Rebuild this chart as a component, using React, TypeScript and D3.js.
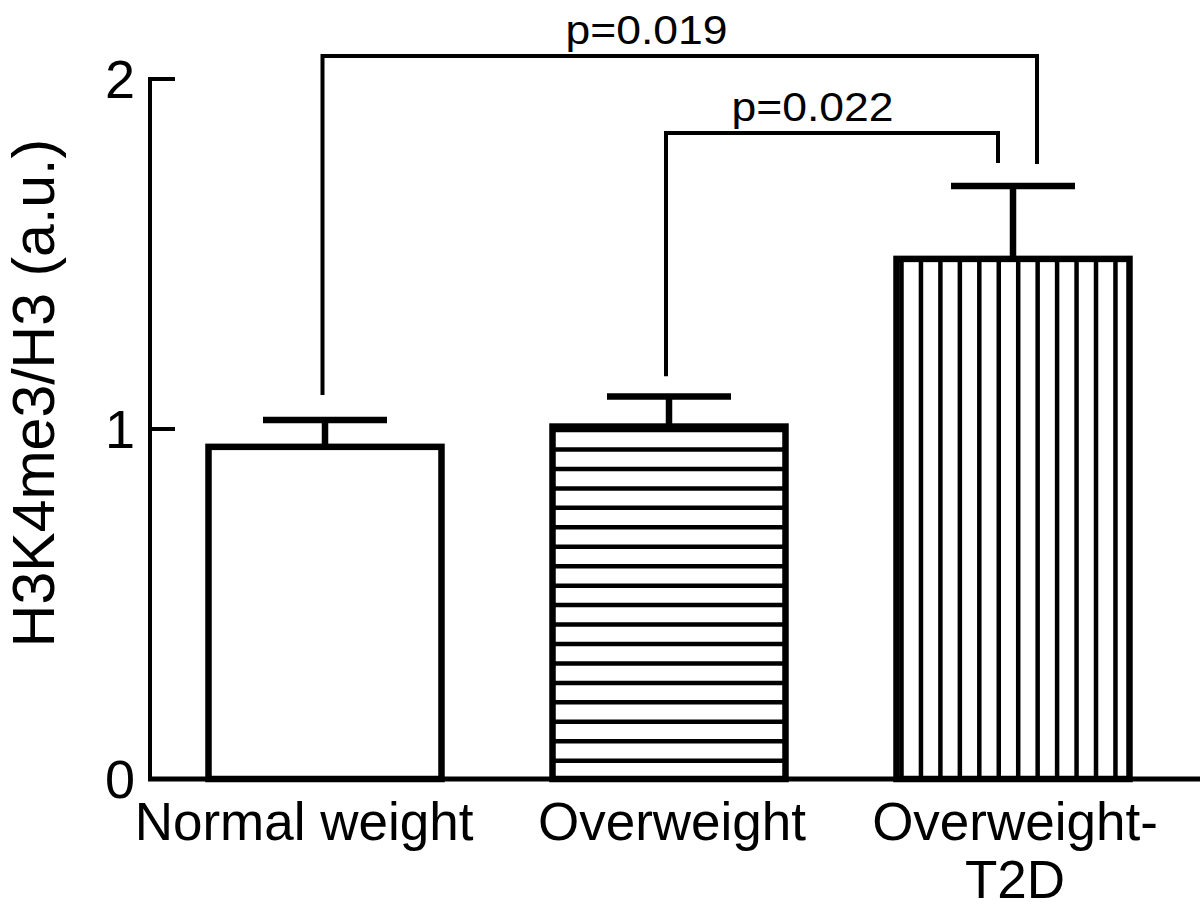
import React from "react";
import * as d3 from "d3";

const categories = ["Normal weight", "Overweight", "Overweight-T2D"];
const labelLines = [["Normal weight"], ["Overweight"], ["Overweight-", "T2D"]];
const means = [0.949, 1.007, 1.486];
const sems = [0.077, 0.086, 0.208];
const hatchKinds = ["none", "horizontal", "vertical"];
const yTicks = [0, 1, 2];
const yLabel = "H3K4me3/H3 (a.u.)";

// significance comparisons (values in data units)
const compFrom = [0, 1];
const compTo = [2, 2];
const compTop = [2.066, 1.846];
const compLegFromEnd = [1.097, 1.151];
const compLegToEnd = [1.757, 1.76];
const compLabels = ["p=0.019", "p=0.022"];

// layout offsets (pixels) for the bracket legs and labels
const legFromOffset = [-2.5, -3];
const legToOffset = [24, -15];
const labelCenterX = [646.5, 812.5];

const W = 1200;
const H = 924;
const FONT = "'Liberation Sans', Arial, Helvetica, sans-serif";

export default function App() {
  const y = d3.scaleLinear().domain([0, 2]).range([779, 79]);
  const x = d3
    .scaleBand<string>()
    .domain(categories)
    .range([153, 1185])
    .paddingInner(0.3227)
    .paddingOuter(0.3227 / 2);
  const bw = x.bandwidth();
  const hatchStep = 19.45;
  const barStroke = 6.5;

  return (
    <svg
      width={W}
      height={H}
      viewBox={`0 0 ${W} ${H}`}
      style={{ position: "absolute", left: 0, top: 0, background: "#fff" }}
    >
      <rect x={0} y={0} width={W} height={H} fill="#fff" />
      {categories.map((c, i) => {
        const x0 = x(c)!;
        const x1 = x0 + bw;
        const yt = y(means[i]);
        const yb = y(0);
        const cx = x0 + bw / 2;
        const hatch: JSX.Element[] = [];
        if (hatchKinds[i] === "horizontal") {
          d3.range(yt + 3.5, yb - 6, hatchStep).forEach((hy, k) =>
            hatch.push(
              <line key={k} x1={x0} x2={x1} y1={hy} y2={hy} stroke="#000" strokeWidth={4.5} />
            )
          );
        } else if (hatchKinds[i] === "vertical") {
          d3.range(x0 + 5, x1 - 6, hatchStep).forEach((hx, k) =>
            hatch.push(
              <line key={k} x1={hx} x2={hx} y1={yt} y2={yb} stroke="#000" strokeWidth={4.5} />
            )
          );
        }
        const ye = y(means[i] + sems[i]);
        return (
          <g key={c}>
            <rect x={x0} y={yt} width={bw} height={yb - yt} fill="#fff" />
            {hatch}
            <rect
              x={x0}
              y={yt}
              width={bw}
              height={yb - yt}
              fill="none"
              stroke="#000"
              strokeWidth={barStroke}
            />
            <line x1={cx} x2={cx} y1={yt} y2={ye} stroke="#000" strokeWidth={6.5} />
            <line x1={cx - 62} x2={cx + 62} y1={ye} y2={ye} stroke="#000" strokeWidth={6.5} />
          </g>
        );
      })}

      {/* axes */}
      <line x1={150} x2={150} y1={y(2) - 2} y2={y(0)} stroke="#000" strokeWidth={4} />
      {yTicks.map((t) => (
        <g key={t}>
          {t > 0 && (
            <line x1={150} x2={175} y1={y(t)} y2={y(t)} stroke="#000" strokeWidth={4} />
          )}
          <text
            x={135}
            y={y(t)}
            dy="0.36em"
            textAnchor="end"
            fontFamily={FONT}
            fontSize={54}
            fill="#000"
          >
            {t}
          </text>
        </g>
      ))}
      <line x1={148} x2={W} y1={y(0)} y2={y(0)} stroke="#000" strokeWidth={5} />

      {/* x labels */}
      {categories.map((c, i) => {
        const cx = x(c)! + bw / 2;
        const shift = i === 0 ? -21 : i === 1 ? 3 : 2;
        return (
          <text
            key={c}
            x={cx + shift}
            y={840}
            textAnchor="middle"
            fontFamily={FONT}
            fontSize={53}
            fill="#000"
          >
            {labelLines[i].map((ln, k) => (
              <tspan key={k} x={cx + shift} dy={k === 0 ? 0 : 58}>
                {ln}
              </tspan>
            ))}
          </text>
        );
      })}

      {/* y label */}
      <text
        transform={`translate(54, 393) rotate(-90)`}
        textAnchor="middle"
        fontFamily={FONT}
        fontSize={59}
        fill="#000"
      >
        {yLabel}
      </text>

      {/* significance brackets */}
      {compLabels.map((lab, i) => {
        const xa = x(categories[compFrom[i]])! + bw / 2 + legFromOffset[i];
        const xb = x(categories[compTo[i]])! + bw / 2 + legToOffset[i];
        const yt = y(compTop[i]);
        const path = d3.path();
        path.moveTo(xa, y(compLegFromEnd[i]));
        path.lineTo(xa, yt);
        path.lineTo(xb, yt);
        path.lineTo(xb, y(compLegToEnd[i]));
        return (
          <g key={lab}>
            <path d={path.toString()} fill="none" stroke="#000" strokeWidth={4} />
            <text
              x={labelCenterX[i]}
              y={yt - 12}
              textAnchor="middle"
              fontFamily={FONT}
              fontSize={40}
              textLength={162}
              lengthAdjust="spacingAndGlyphs"
              fill="#000"
            >
              {lab}
            </text>
          </g>
        );
      })}
    </svg>
  );
}
